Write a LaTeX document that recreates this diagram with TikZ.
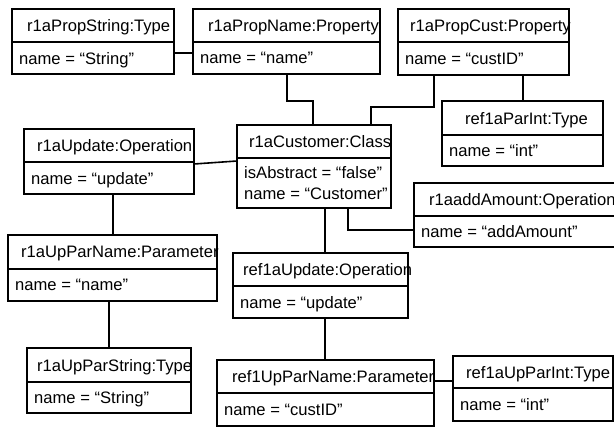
\documentclass[tikz,border=0pt]{standalone}
\usepackage{fontspec}
\setmainfont{Liberation Sans}

\begin{document}
\begin{tikzpicture}[x=1pt,y=-1pt,
		font=\fontsize{16.6}{21.7}\selectfont,
		obj/.style={draw,line width=1.6pt,inner sep=0pt,outer sep=0pt},
		ttl/.style={anchor=west,inner sep=0pt,text depth=0pt},
		att/.style={anchor=west,inner sep=0pt,text depth=0pt,align=left},
		link/.style={line width=1.6pt}]
	\useasboundingbox (0,0) rectangle (614,427);

	% object boxes: name/left/top/right/divider/bottom/indent/title/slots
	\foreach \n/\xa/\ya/\xb/\yd/\yb/\ti/\t/\a in {
		ps/12/9/174/42/74/15/r1aPropString:Type/name = “String”,
		pn/193/9/380/42/74/15/r1aPropName:Property/name = “name”,
		pc/398/9/569/42/75/12/r1aPropCust:Property/name = “custID”,
		pi/442/101/603/135/166/23/ref1aParInt:Type/name = “int”,
		cust/237/125/391/158/208/12/r1aCustomer:Class/isAbstract = “false”\\name = “Customer”,
		up/24/129/194/162/194/13/r1aUpdate:Operation/name = “update”,
		add/414/183/640/216/247/15/r1aaddAmount:Operation/name = “addAmount”,
		rup/233/253/408/286/318/10/ref1aUpdate:Operation/name = “update”,
		upn/8/235/217/269/301/13/r1aUpParName:Parameter/name = “name”,
		ups/27/348/191/382/413/10/r1aUpParString:Type/name = “String”,
		rpn/217/360/434/393/426/15/ref1UpParName:Parameter/name = “custID”,
		rpi/453/356/613/388/421/13/ref1aUpParInt:Type/name = “int”}
	{
		\node[obj,minimum width=\xb-\xa,minimum height=\yb-\ya] (\n) at ({(\xa+\xb)/2},{(\ya+\yb)/2}) {};
		\draw[link] (\xa,\yd) -- (\xb,\yd);
		\node[ttl] (\n-t) at ({\xa+\ti},{(\ya+\yd)/2}) {\t};
		\node[att] (\n-a) at ({\xa+7},{(\yd+\yb)/2}) {\a};
	}

	% links
	\draw[link] (ps.east |- 0,53) -- (pn.west |- 0,53);
	\draw[link] (pn.south -| 287,0) |- (313,101) -- (cust.north -| 313,0);
	\draw[link] (pc.south -| 434,0) |- (371,107) -- (cust.north -| 371,0);
	\draw[link] (pc.south -| 523,0) -- (pi.north -| 523,0);
	\draw[link] (up.east |- 0,164) -- (cust.west |- 0,161);
	\draw[link] (cust.south -| 348,0) |- (add.west |- 0,230);
	\draw[link] (cust.south -| 325,0) -- (rup.north -| 325,0);
	\draw[link] (rup.south -| 325,0) -- (rpn.north -| 325,0);
	\draw[link] (rpn.east |- 0,381) -- (rpi.west |- 0,381);
	\draw[link] (up.south -| 113,0) -- (upn.north -| 113,0);
	\draw[link] (upn.south -| 109,0) -- (ups.north -| 109,0);
\end{tikzpicture}
\end{document}
